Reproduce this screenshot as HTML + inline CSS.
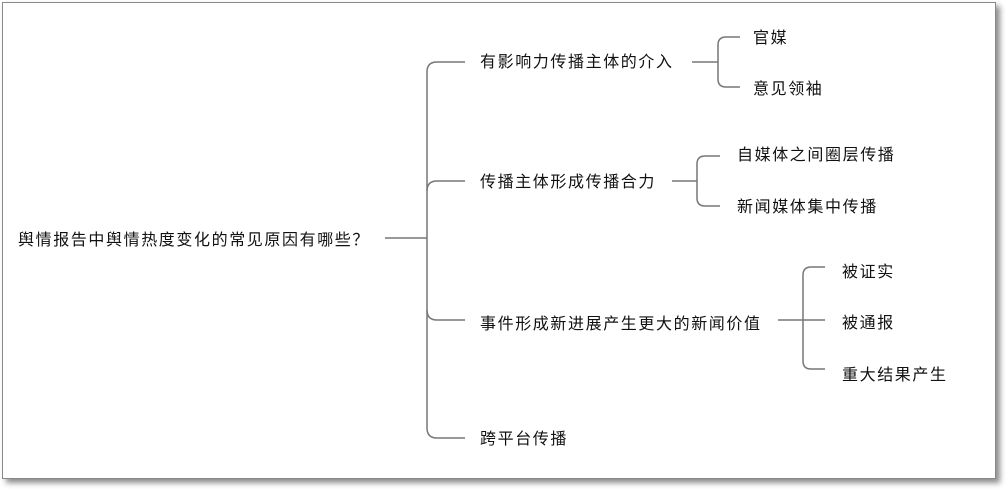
<!DOCTYPE html>
<html><head><meta charset="utf-8"><style>
html,body{margin:0;padding:0;background:#fff;width:1007px;height:492px;overflow:hidden}
svg{display:block}
text{font-family:"Liberation Sans","Noto Sans CJK SC","WenQuanYi Zen Hei",sans-serif;font-size:16px;letter-spacing:1.6px;fill:#111;dominant-baseline:middle}
</style></head><body>
<svg width="1007" height="492" viewBox="0 0 1007 492">
<defs><filter id="s" x="-5%" y="-5%" width="110%" height="110%"><feDropShadow dx="4" dy="4" stdDeviation="3" flood-color="#000" flood-opacity="0.45"/></filter></defs>
<rect x="2.5" y="2.5" width="993" height="476" fill="#fff" stroke="#888" stroke-width="1" filter="url(#s)"/>
<g fill="none" stroke="#777" stroke-width="1.5">
<path d="M385 238 H427"/>
<path d="M465 62 H437 Q427 62 427 72 V428 Q427 438 437 438 H465"/>
<path d="M427 191 Q427 181 437 181 H465"/>
<path d="M427 310 Q427 320 437 320 H465"/>
<path d="M692 62 H718"/>
<path d="M740 37 H726 Q718 37 718 45 V79 Q718 87 726 87 H740"/>
<path d="M672 181 H697"/>
<path d="M720 156 H705 Q697 156 697 164 V198 Q697 206 705 206 H720"/>
<path d="M778 320 H825"/>
<path d="M825 267 H811 Q803 267 803 275 V361 Q803 369 811 369 H825"/>
</g>
<text x="18" y="241">舆情报告中舆情热度变化的常见原因有哪些？</text>
<text x="480" y="63">有影响力传播主体的介入</text>
<text x="480" y="183">传播主体形成传播合力</text>
<text x="480" y="325">事件形成新进展产生更大的新闻价值</text>
<text x="480" y="440">跨平台传播</text>
<text x="753" y="39">官媒</text>
<text x="753" y="90">意见领袖</text>
<text x="737" y="156">自媒体之间圈层传播</text>
<text x="737" y="208">新闻媒体集中传播</text>
<text x="842" y="273">被证实</text>
<text x="842" y="324">被通报</text>
<text x="842" y="376">重大结果产生</text>
</svg>
</body></html>
